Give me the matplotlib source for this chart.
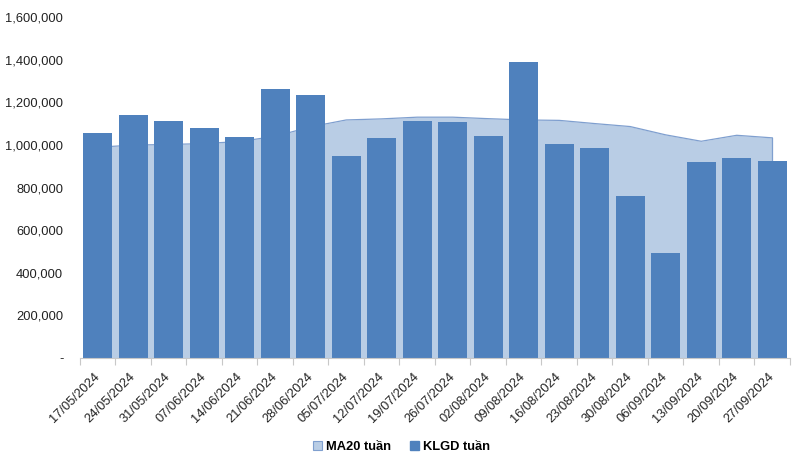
import numpy as np
import matplotlib
matplotlib.use('Agg')
import matplotlib.pyplot as plt
from matplotlib.patches import Patch

plt.rcParams['font.family'] = ['Liberation Sans', 'DejaVu Sans']

# weekly dates
dates = ['17/05/2024', '24/05/2024', '31/05/2024', '07/06/2024', '14/06/2024',
         '21/06/2024', '28/06/2024', '05/07/2024', '12/07/2024', '19/07/2024',
         '26/07/2024', '02/08/2024', '09/08/2024', '16/08/2024', '23/08/2024',
         '30/08/2024', '06/09/2024', '13/09/2024', '20/09/2024', '27/09/2024']

# KLGD tuan (weekly volume)
klgd = [1056000, 1141000, 1113000, 1080000, 1038000, 1263000, 1235000, 950000,
        1033000, 1113000, 1108000, 1042000, 1390000, 1005000, 986000, 761000,
        493000, 920000, 939000, 925000]

# MA20 tuan
ma20 = [989000, 999000, 1002000, 1006000, 1016000, 1040000, 1085000, 1117000,
        1122000, 1130000, 1130000, 1123000, 1117000, 1115000, 1100000, 1086000,
        1047000, 1017000, 1045000, 1033000]

yticks = [0, 200000, 400000, 600000, 800000, 1000000, 1200000, 1400000, 1600000]

bar_color = '#4F81BD'
area_color = '#B9CDE5'
edge_color = '#7F9FCF'

fig = plt.figure(figsize=(8.03, 4.55), dpi=100)
ax = fig.add_axes([0.0996, 0.2132, 0.8842, 0.7494])

x = np.arange(len(dates))
ax.fill_between(x, 0, ma20, color=area_color, linewidth=0, zorder=1)
ax.plot(x, ma20, color=edge_color, linewidth=0.9, zorder=1.5)
ax.plot([x[-1], x[-1]], [0, ma20[-1]], color=edge_color, linewidth=0.9, zorder=1.5)
ax.bar(x, klgd, width=0.82, color=bar_color, zorder=2)

ax.set_xlim(-0.5, len(dates) - 0.5)
ax.set_ylim(0, 1600000)
ax.set_yticks(yticks)
ax.set_yticklabels(['-' if v == 0 else f'{v:,}' for v in yticks], fontsize=9.3, color='#222222')
ax.tick_params(axis='y', length=0, pad=12)

ax.set_xticks(x)
ax.set_xticklabels(dates, rotation=45, ha='right', va='center', rotation_mode='anchor',
                   fontsize=9.3, color='#222222')
ax.tick_params(axis='x', which='major', length=0, pad=12)
ax.set_xticks(np.arange(-0.5, len(dates)), minor=True)
ax.tick_params(axis='x', which='minor', length=5, color='#C8C8C8', width=0.8)

for s in ['top', 'right', 'left']:
    ax.spines[s].set_visible(False)
ax.spines['bottom'].set_color('#C8C8C8')
ax.spines['bottom'].set_linewidth(0.8)

handles = [Patch(facecolor=area_color, edgecolor=edge_color, linewidth=0.8),
           Patch(facecolor=bar_color, edgecolor=bar_color)]
fig.legend(handles, ['MA20 tuần', 'KLGD tuần'], loc='center', bbox_to_anchor=(0.5, 0.018),
           ncol=2, frameon=False, prop={'weight': 'bold', 'size': 9.3},
           handlelength=0.7, handleheight=0.7, handletextpad=0.3, columnspacing=1.5)

fig.savefig('out.png', dpi=100)
